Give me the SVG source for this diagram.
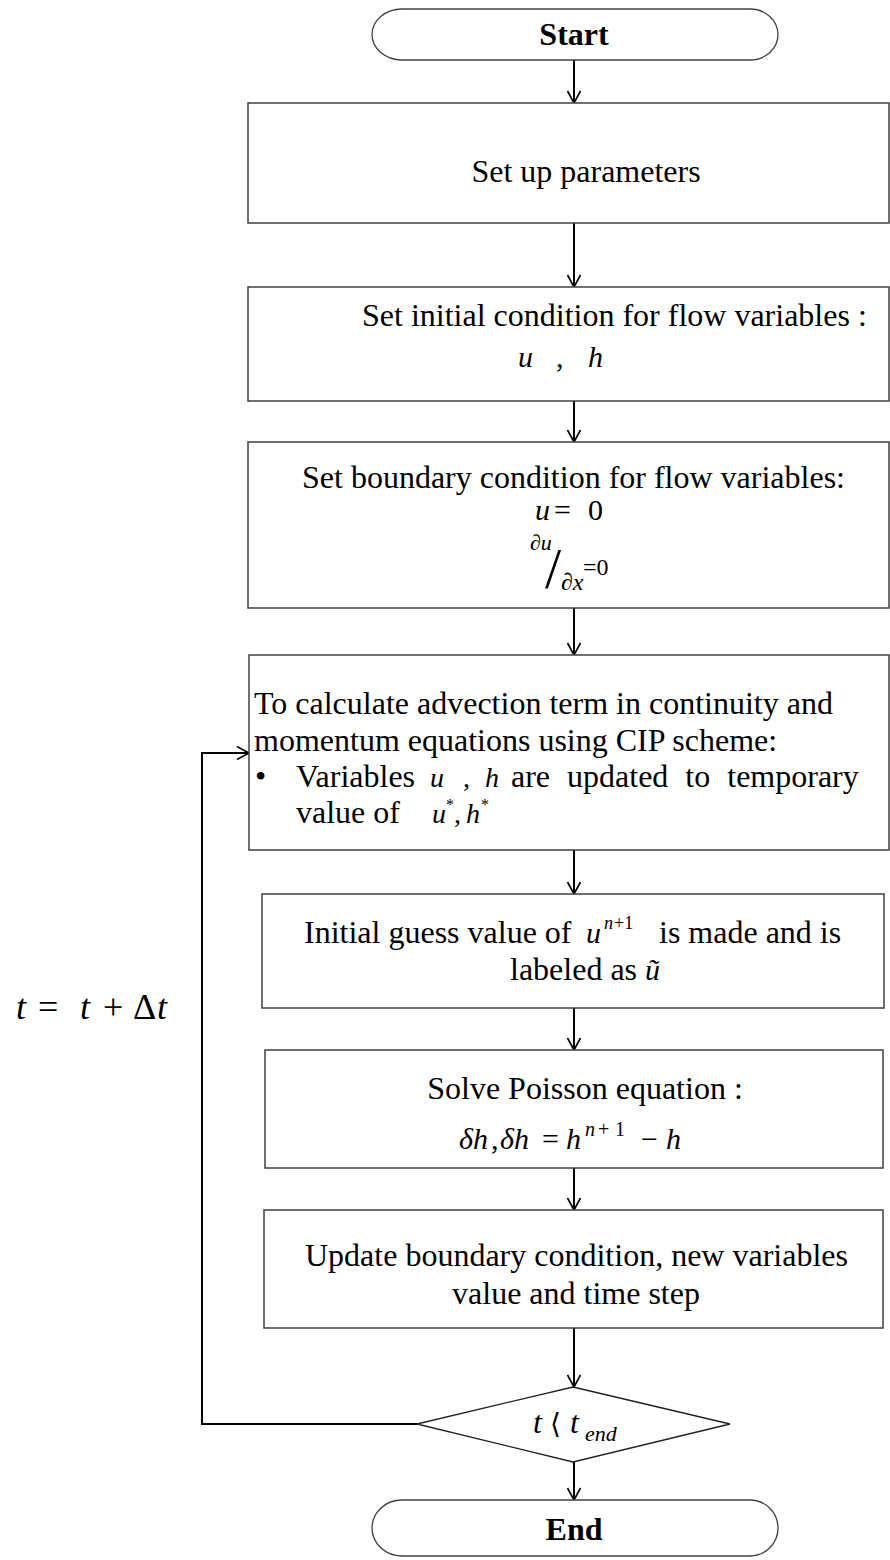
<svg xmlns="http://www.w3.org/2000/svg" width="890" height="1560" viewBox="0 0 890 1560">
<defs>
<style>
.box{fill:#fff;stroke:#404040;stroke-width:1.5}
.term{fill:#fff;stroke:#404040;stroke-width:1.3}
.dia{fill:#fff;stroke:#222;stroke-width:1.3}
.c{fill:none;stroke:#000;stroke-width:2}
.t{font-family:"Liberation Serif","DejaVu Serif",serif;font-size:32px;fill:#000}
.b{font-weight:bold}
.i{font-style:italic}
.mid{text-anchor:middle}
.m30{font-size:30px}
.m28{font-size:28px}
.m24{font-size:24px}
.m22{font-size:22px}
.m20{font-size:20px}
.m18{font-size:18px}
.m16{font-size:16px}
.m36{font-size:36px}
.sl{font-size:58px;font-weight:300}
</style>
<marker id="ah" markerWidth="16" markerHeight="16" refX="13" refY="8" orient="auto" markerUnits="userSpaceOnUse">
<path d="M1,1.5 L13,8 L1,14.5" fill="none" stroke="#000" stroke-width="1.6"/>
</marker>
</defs>
<rect width="890" height="1560" fill="#fff"/>

<g id="connectors">
<line class="c" x1="574" y1="60" x2="574" y2="103" marker-end="url(#ah)"/>
<line class="c" x1="574" y1="223" x2="574" y2="287" marker-end="url(#ah)"/>
<line class="c" x1="574" y1="401" x2="574" y2="442" marker-end="url(#ah)"/>
<line class="c" x1="574" y1="608" x2="574" y2="655" marker-end="url(#ah)"/>
<line class="c" x1="574" y1="850" x2="574" y2="894" marker-end="url(#ah)"/>
<line class="c" x1="574" y1="1008" x2="574" y2="1050" marker-end="url(#ah)"/>
<line class="c" x1="574" y1="1168" x2="574" y2="1210" marker-end="url(#ah)"/>
<line class="c" x1="574" y1="1328" x2="574" y2="1387" marker-end="url(#ah)"/>
<line class="c" x1="574" y1="1462" x2="574" y2="1500" marker-end="url(#ah)"/>
<path class="c" d="M417,1424 H202 V753 H249" marker-end="url(#ah)"/>
</g>

<g id="start">
<path class="term" d="M402,9 H750 A28,25.5 0 0 1 750,60 H402 A30,25.5 0 0 1 402,9 Z"/>
<text class="t b mid" x="574" y="45">Start</text>
</g>

<g id="setup">
<rect class="box" x="248" y="103" width="641" height="120"/>
<text class="t mid" x="586" y="182">Set up parameters</text>
</g>

<g id="initial">
<rect class="box" x="248" y="287" width="641" height="114"/>
<text class="t" x="362" y="326">Set initial condition for flow variables :</text>
<text class="t i m30" x="518" y="367">u</text>
<text class="t m30" x="556" y="367">,</text>
<text class="t i m30" x="588" y="367">h</text>
</g>

<g id="boundary">
<rect class="box" x="248" y="442" width="641" height="166"/>
<text class="t" x="302" y="488">Set boundary condition for flow variables:</text>
<text class="t i m30" x="535" y="520">u</text>
<text class="t m30" x="554" y="520">=</text>
<text class="t m30" x="588" y="520">0</text>
<text class="t i m22" x="530" y="550">∂u</text>
<text class="t sl" x="545" y="588">/</text>
<text class="t i m24" x="561" y="590">∂x</text>
<text class="t m24" x="583" y="575">=0</text>
</g>

<g id="advection">
<rect class="box" x="249" y="655" width="640" height="195"/>
<text class="t" x="254" y="714">To calculate advection term in continuity and</text>
<text class="t" x="254" y="751">momentum equations using CIP scheme:</text>
<text class="t" x="255" y="787">•</text>
<text class="t" x="296" y="787">Variables</text>
<text class="t i m28" x="430" y="787">u</text>
<text class="t m28" x="463" y="787">,</text>
<text class="t i m28" x="485" y="787">h</text>
<text class="t" x="511" y="787" word-spacing="9">are updated to temporary</text>
<text class="t" x="296" y="823">value of</text>
<text class="t i m28" x="432" y="823">u</text>
<text class="t m16" x="446" y="810">*</text>
<text class="t m28" x="454" y="823">,</text>
<text class="t i m28" x="466" y="823">h</text>
<text class="t m16" x="481" y="810">*</text>
</g>

<g id="guess">
<rect class="box" x="262" y="894" width="622" height="114"/>
<text class="t" x="304" y="943">Initial guess value of</text>
<text class="t i m30" x="586" y="943">u</text>
<text class="t i m18" x="604" y="929">n</text>
<text class="t m18" x="614" y="929">+1</text>
<text class="t" x="659" y="943">is made and is</text>
<text class="t" x="510" y="980">labeled as</text>
<text class="t i m30" x="645" y="980">ũ</text>
</g>

<g id="poisson">
<rect class="box" x="265" y="1050" width="618" height="118"/>
<text class="t mid" x="585" y="1099">Solve Poisson equation :</text>
<text class="t i m30" x="459" y="1149">δh</text>
<text class="t m30" x="491" y="1149">,</text>
<text class="t i m30" x="500" y="1149">δh</text>
<text class="t m30" x="542" y="1149">=</text>
<text class="t i m30" x="566" y="1149">h</text>
<text class="t i m20" x="585" y="1136">n</text>
<text class="t m20" x="598" y="1136">+</text>
<text class="t m20" x="615" y="1136">1</text>
<text class="t m30" x="641" y="1149">−</text>
<text class="t i m30" x="666" y="1149">h</text>
</g>

<g id="update">
<rect class="box" x="264" y="1210" width="619" height="118"/>
<text class="t" x="305" y="1266">Update boundary condition, new variables</text>
<text class="t mid" x="576" y="1304">value and time step</text>
</g>

<g id="decision">
<polygon class="dia" points="573,1387 730,1424 573,1462 417,1424"/>
<text class="t i" x="533" y="1433">t</text>
<text class="t m28" x="550" y="1433" style="font-family:'DejaVu Serif',serif">⟨</text>
<text class="t i" x="570" y="1433">t</text>
<text class="t i" x="585" y="1441" style="font-size:22px">end</text>
</g>

<g id="end">
<path class="term" d="M402,1500 H750 A28,28 0 0 1 750,1556 H402 A30,28 0 0 1 402,1500 Z"/>
<text class="t b mid" x="574" y="1540">End</text>
</g>

<g id="loop-label">
<text class="t i m36" x="16" y="1019">t</text>
<text class="t m36" x="38" y="1019">=</text>
<text class="t i m36" x="80" y="1019">t</text>
<text class="t m36" x="103" y="1019">+</text>
<text class="t m36" x="133" y="1019">Δ</text>
<text class="t i m36" x="157" y="1019">t</text>
</g>
</svg>
